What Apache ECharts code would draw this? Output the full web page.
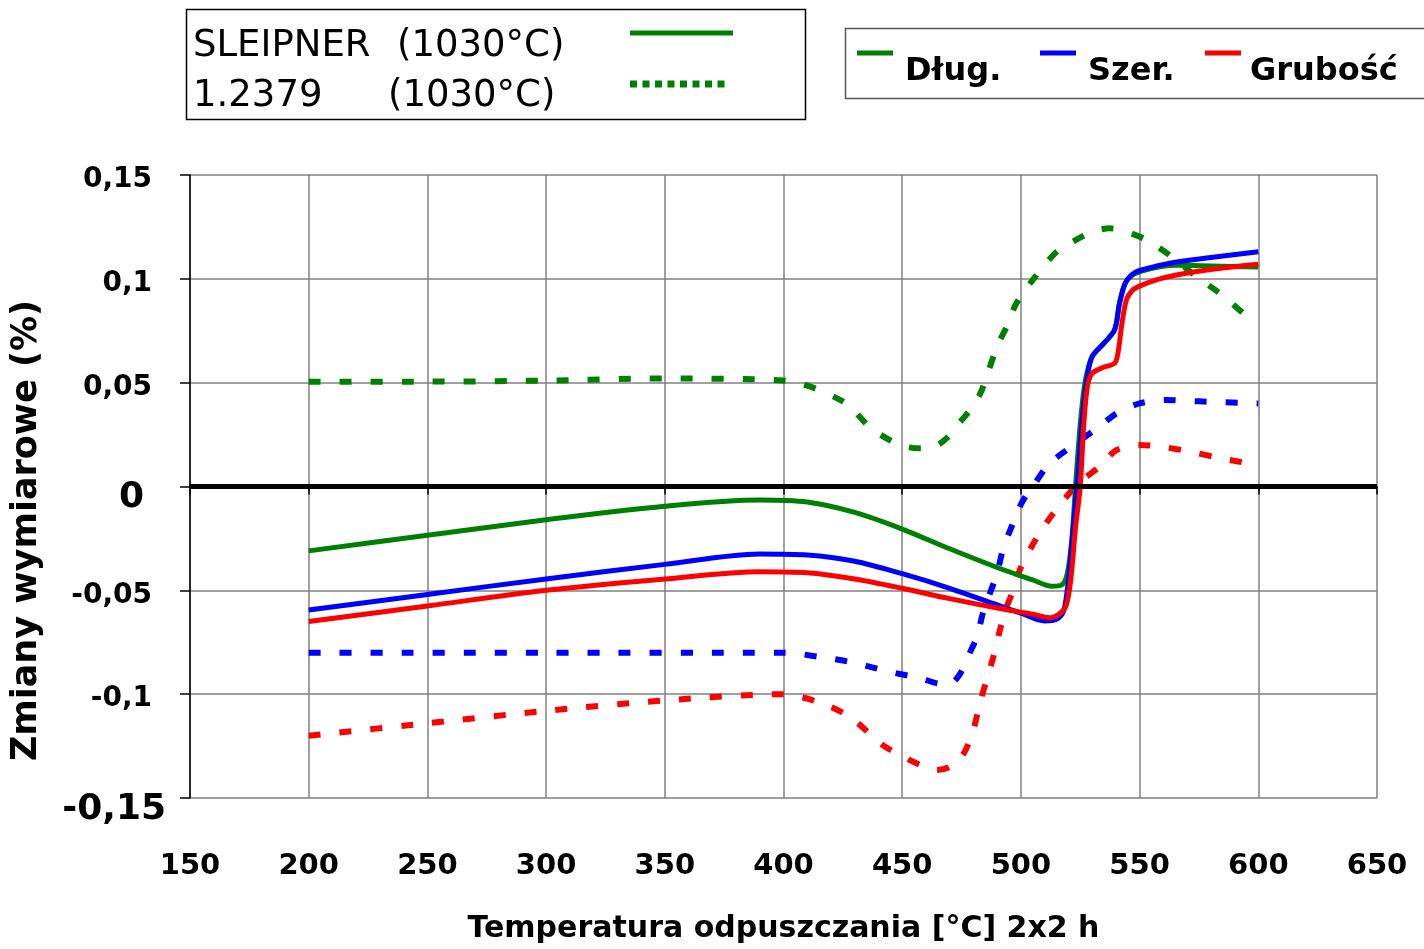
<!DOCTYPE html>
<html>
<head>
<meta charset="utf-8">
<script src="https://cdn.jsdelivr.net/npm/echarts@6/dist/echarts.min.js"></script>
<style>
html,body{margin:0;padding:0;background:#fff;}
#c{width:1424px;height:949px;}
</style>
</head>
<body>
<div id="c"></div>
<script>
// ---- data (x = temperature °C, y = dimensional change %) ----
const xTicks = [150, 200, 250, 300, 350, 400, 450, 500, 550, 600, 650];
const yTicks = [-0.15, -0.1, -0.05, 0, 0.05, 0.1, 0.15];

const sleipnerDlug = [[200,-0.031],[250,-0.0235],[300,-0.016],[350,-0.0095],[390,-0.0065],[410,-0.0075],[430,-0.0125],[450,-0.0205],[470,-0.030],[490,-0.039],[505,-0.045],[513,-0.048],[517,-0.0475],[519.5,-0.042],[521.5,-0.025],[523,0],[525,0.03],[527,0.05],[530,0.0625],[535,0.069],[539.5,0.0755],[541.5,0.088],[544,0.098],[548,0.1025],[555,0.105],[565,0.1065],[580,0.1062],[600,0.1057]];
const sleipnerSzer = [[200,-0.0595],[250,-0.052],[300,-0.0445],[350,-0.0375],[390,-0.0325],[410,-0.033],[430,-0.036],[450,-0.042],[470,-0.049],[490,-0.057],[500,-0.061],[510,-0.0648],[515,-0.064],[518,-0.060],[520,-0.045],[522,-0.02],[524,0.005],[526,0.035],[528,0.053],[530,0.0625],[535,0.069],[539.5,0.0755],[541.5,0.088],[544,0.098],[548,0.103],[555,0.1055],[565,0.108],[580,0.1103],[600,0.113]];
const sleipnerGrub = [[200,-0.065],[250,-0.0575],[300,-0.050],[350,-0.0445],[390,-0.041],[410,-0.0415],[430,-0.0445],[450,-0.049],[470,-0.054],[490,-0.0585],[505,-0.0615],[512,-0.0632],[516,-0.0615],[519,-0.0575],[521,-0.045],[523,-0.02],[525,0.0],[526.5,0.03],[528,0.048],[530,0.0545],[535,0.0575],[539.5,0.0594],[541,0.065],[542.5,0.078],[544.5,0.09],[547,0.0945],[550,0.0965],[557,0.0995],[566,0.102],[580,0.1045],[600,0.107]];
const s2379Dlug = [[200,0.0505],[250,0.0505],[300,0.051],[350,0.052],[400,0.051],[425,0.041],[437,0.028],[449,0.020],[457.5,0.0184],[464,0.0195],[469,0.0235],[474,0.0305],[479,0.0375],[483,0.045],[486,0.0545],[490,0.0675],[494,0.077],[498,0.088],[505,0.0995],[515,0.113],[522,0.118],[530,0.1226],[537.5,0.1243],[544.5,0.1226],[551.5,0.1195],[558.5,0.1147],[565.5,0.109],[574,0.101],[585,0.092],[594,0.083]];
const s2379Szer = [[200,-0.080],[300,-0.080],[400,-0.080],[415,-0.082],[428,-0.0845],[445,-0.0893],[457.5,-0.0923],[466,-0.095],[470,-0.0951],[474.5,-0.090],[478.5,-0.080],[481.5,-0.0723],[484,-0.061],[487,-0.0513],[490,-0.0417],[492.7,-0.029],[495.5,-0.021],[498.3,-0.0129],[501,-0.0065],[505.3,0.0005],[512,0.011],[523.5,0.021],[533,0.0288],[540.4,0.0353],[550,0.040],[561,0.0417],[575,0.041],[600,0.040]];
const s2379Grub = [[200,-0.120],[250,-0.114],[300,-0.108],[350,-0.103],[400,-0.100],[415,-0.104],[428,-0.111],[442,-0.1247],[450.4,-0.130],[457.5,-0.134],[464.5,-0.1365],[470,-0.135],[475.7,-0.129],[480,-0.117],[482.8,-0.104],[485.6,-0.093],[488.4,-0.082],[491.2,-0.069],[494,-0.058],[496.8,-0.050],[499.6,-0.040],[504.5,-0.029],[508.7,-0.021],[513.6,-0.013],[520.6,-0.003],[525,0.0023],[533,0.0095],[540.4,0.0176],[550,0.020],[558.6,0.0192],[571.3,0.0168],[584,0.0136],[600,0.0104]];

const legendMaterials = ['SLEIPNER', '(1030°C)', '1.2379', '(1030°C)'];
const legendDims = ['Dług.', 'Szer.', 'Grubość'];
const xName = 'Temperatura odpuszczania [°C] 2x2 h';
const yName = 'Zmiany wymiarowe (%)';

const GREEN = '#008000', BLUE = '#0000ff', RED = '#ff0000';
const FONT = 'DejaVu Sans';

function lineSeries(name, data, color, dashed) {
  return {
    name: name, type: 'line', data: data, smooth: 0.3,
    symbol: 'none', z: 3,
    lineStyle: { color: color, width: dashed ? 6 : 5, type: dashed ? [12, 19] : 'solid', cap: 'butt', join: 'round' }
  };
}

const chart = echarts.init(document.getElementById('c'), null, { renderer: 'canvas' });
chart.setOption({
  backgroundColor: '#fff',
  animation: false,
  textStyle: { fontFamily: FONT },
  grid: { left: 190, right: 47, top: 175, bottom: 151, containLabel: false, outerBoundsMode: 'none' },
  xAxis: {
    type: 'value', min: 150, max: 650, interval: 50,
    name: xName, nameLocation: 'middle', nameGap: 116,
    nameTextStyle: { fontFamily: FONT, fontSize: 30, fontWeight: 'bold', color: '#000' },
    axisLine: { show: true, lineStyle: { color: '#000', width: 1.5 } },
    axisTick: { show: true, length: 8, lineStyle: { color: '#000', width: 1.5 } },
    axisLabel: { fontFamily: FONT, fontSize: 29, fontWeight: 'bold', color: '#000', margin: 54 },
    splitLine: { show: true, lineStyle: { color: '#808080', width: 1.5 } }
  },
  yAxis: {
    type: 'value', min: -0.15, max: 0.15, interval: 0.05,
    name: yName, nameLocation: 'middle', nameGap: 146, nameRotate: 90,
    nameTextStyle: { fontFamily: FONT, fontSize: 35, fontWeight: 'bold', color: '#000', padding: [0, 88, 0, 0] },
    axisLine: { show: true, lineStyle: { color: '#000', width: 1.5 } },
    axisTick: { show: true, length: 10, lineStyle: { color: '#000', width: 1.5 } },
    axisLabel: {
      fontFamily: FONT, fontSize: 28, fontWeight: 'bold', color: '#000', margin: 38,
      padding: [10, 0, 0, 0],
      formatter: function (v) {
        const r = Math.round(v * 100) / 100;
        const s = String(r).replace('.', ',');
        if (r === 0) return '{z|0}';
        if (r === -0.15) return '{b|' + s + '}';
        return s;
      },
      rich: {
        z: { fontFamily: FONT, fontSize: 36, fontWeight: 'bold', color: '#000', padding: [12, 8, 0, 0] },
        b: { fontFamily: FONT, fontSize: 36, fontWeight: 'bold', color: '#000', padding: [14, -14, 0, 0] }
      }
    },
    splitLine: { show: true, lineStyle: { color: '#808080', width: 1.5 } }
  },
  series: [
    {
      name: 'zero', type: 'line', data: [], z: 2, symbol: 'none',
      markLine: {
        silent: true, symbol: 'none', label: { show: false },
        lineStyle: { color: '#000', width: 5, type: 'solid' },
        data: [{ yAxis: 0 }]
      }
    },
    lineSeries('1.2379 Dług.', s2379Dlug, GREEN, true),
    lineSeries('1.2379 Szer.', s2379Szer, BLUE, true),
    lineSeries('1.2379 Grubość', s2379Grub, RED, true),
    lineSeries('SLEIPNER Dług.', sleipnerDlug, GREEN, false),
    lineSeries('SLEIPNER Szer.', sleipnerSzer, BLUE, false),
    lineSeries('SLEIPNER Grubość', sleipnerGrub, RED, false)
  ],
  graphic: [
    { type: 'rect', shape: { x: 186.5, y: 9.5, width: 619, height: 110 }, style: { fill: '#fff', stroke: '#000', lineWidth: 1.5 } },
    { type: 'text', x: 193, y: 46, style: { text: legendMaterials[0], font: '37px "DejaVu Sans"', fill: '#000', textVerticalAlign: 'middle' } },
    { type: 'text', x: 397, y: 46, style: { text: legendMaterials[1], font: '37px "DejaVu Sans"', fill: '#000', textVerticalAlign: 'middle' } },
    { type: 'text', x: 193, y: 96, style: { text: legendMaterials[2], font: '37px "DejaVu Sans"', fill: '#000', textVerticalAlign: 'middle' } },
    { type: 'text', x: 388, y: 96, style: { text: legendMaterials[3], font: '37px "DejaVu Sans"', fill: '#000', textVerticalAlign: 'middle' } },
    { type: 'line', shape: { x1: 630, y1: 33, x2: 733, y2: 33 }, style: { stroke: GREEN, lineWidth: 5 } },
    { type: 'line', shape: { x1: 630, y1: 84, x2: 728, y2: 84 }, style: { stroke: GREEN, lineWidth: 7, lineDash: [7, 5.5] } },

    { type: 'rect', shape: { x: 845.5, y: 28.5, width: 580, height: 70 }, style: { fill: '#fff', stroke: '#555', lineWidth: 1.5 } },
    { type: 'line', shape: { x1: 857, y1: 53, x2: 893, y2: 53 }, style: { stroke: GREEN, lineWidth: 5 } },
    { type: 'text', x: 905, y: 72, style: { text: legendDims[0], font: 'bold 32px "DejaVu Sans"', fill: '#000', textVerticalAlign: 'middle' } },
    { type: 'line', shape: { x1: 1040, y1: 53, x2: 1076, y2: 53 }, style: { stroke: BLUE, lineWidth: 5 } },
    { type: 'text', x: 1088, y: 72, style: { text: legendDims[1], font: 'bold 32px "DejaVu Sans"', fill: '#000', textVerticalAlign: 'middle' } },
    { type: 'line', shape: { x1: 1205, y1: 53, x2: 1241, y2: 53 }, style: { stroke: RED, lineWidth: 5 } },
    { type: 'text', x: 1250, y: 72, style: { text: legendDims[2], font: 'bold 32px "DejaVu Sans"', fill: '#000', textVerticalAlign: 'middle' } }
  ]
});
</script>
</body>
</html>
